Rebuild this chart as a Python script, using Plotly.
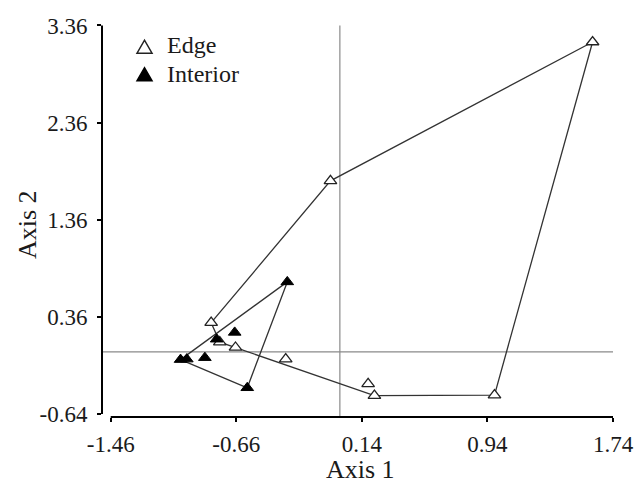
import plotly.graph_objects as go

# Data
edge_x = [1.61, -0.06, -0.82, -0.765, -0.665, -0.345, 0.18, 0.22, 0.985]
edge_y = [3.19, 1.76, 0.30, 0.10, 0.045, -0.075, -0.33, -0.45, -0.445]
interior_x = [-0.335, -0.59, -0.67, -0.785, -1.015, -0.975, -0.86]
interior_y = [0.72, -0.37, 0.20, 0.13, -0.08, -0.075, -0.06]
x_ticks = [-1.46, -0.66, 0.14, 0.94, 1.74]
y_ticks = [-0.64, 0.36, 1.36, 2.36, 3.36]
legend_labels = ["Edge", "Interior"]


def convex_hull(xs, ys):
    pts = sorted(set(zip(xs, ys)))
    def cross(o, a, b):
        return (a[0]-o[0])*(b[1]-o[1]) - (a[1]-o[1])*(b[0]-o[0])
    lower, upper = [], []
    for p in pts:
        while len(lower) >= 2 and cross(lower[-2], lower[-1], p) <= 0:
            lower.pop()
        lower.append(p)
    for p in reversed(pts):
        while len(upper) >= 2 and cross(upper[-2], upper[-1], p) <= 0:
            upper.pop()
        upper.append(p)
    hull = lower[:-1] + upper[:-1]
    hull.append(hull[0])
    return [p[0] for p in hull], [p[1] for p in hull]


FONT = "Liberation Serif"
TXT = "#1a1a1a"
fig = go.Figure()

for xs, ys in [(edge_x, edge_y), (interior_x, interior_y)]:
    hx, hy = convex_hull(xs, ys)
    fig.add_trace(go.Scatter(x=hx, y=hy, mode="lines",
                             line=dict(color="#333333", width=1.3),
                             showlegend=False, hoverinfo="skip"))

fig.add_trace(go.Scatter(x=edge_x, y=edge_y, mode="markers", name=legend_labels[0],
                         showlegend=False,
                         marker=dict(symbol="triangle-up", size=11, color="white",
                                     line=dict(color="#222222", width=1.3))))
fig.add_trace(go.Scatter(x=interior_x, y=interior_y, mode="markers", name=legend_labels[1],
                         showlegend=False,
                         marker=dict(symbol="triangle-up", size=11, color="black",
                                     line=dict(color="black", width=1))))

# Reference lines at zero
fig.add_shape(type="line", xref="x", yref="y", x0=0, x1=0, y0=-0.671, y1=3.36,
              line=dict(color="#8a8a8a", width=1.2), layer="below")
fig.add_shape(type="line", xref="paper", yref="y", x0=0, x1=1, y0=0, y1=0,
              line=dict(color="#8a8a8a", width=1.2), layer="below")
# Detached axis lines
fig.add_shape(type="line", xref="paper", yref="y", x0=0, x1=0, y0=-0.64, y1=3.36,
              line=dict(color="black", width=2))
fig.add_shape(type="line", xref="x", yref="paper", x0=-1.46, x1=1.74, y0=0, y1=0,
              line=dict(color="black", width=2))

# Legend (symbols as pixel-sized shapes, labels as text)
tri = "M-7.5,-6.5 L7.5,-6.5 L0,6.5 Z"
leg_rows = [(0.9446, 0.9485, "white", "#222222"), (0.8745, 0.876, "black", "black")]
for label, (sy, ty, fill, edge) in zip(legend_labels, leg_rows):
    fig.add_shape(type="path", xref="paper", yref="paper", xsizemode="pixel",
                  ysizemode="pixel", xanchor=0.0832, yanchor=sy, path=tri,
                  fillcolor=fill, line=dict(color=edge, width=1.5))
    fig.add_annotation(text=label, xref="paper", yref="paper", x=0.1233, y=ty,
                       xanchor="left", yanchor="middle", showarrow=False,
                       font=dict(family=FONT, size=24, color=TXT))

fig.add_annotation(text="Axis 1", xref="paper", yref="paper", x=0.506, y=-0.133,
                   xanchor="center", yanchor="middle", showarrow=False,
                   font=dict(family=FONT, size=26, color=TXT))
fig.add_annotation(text="Axis 2", xref="paper", yref="paper", x=-0.147, y=0.492,
                   xanchor="center", yanchor="middle", showarrow=False, textangle=-90,
                   font=dict(family=FONT, size=26, color=TXT))

fig.update_layout(
    width=644, height=486,
    margin=dict(l=94, r=39, t=17, b=77, autoexpand=False),
    paper_bgcolor="white", plot_bgcolor="white",
    font=dict(family=FONT, size=23, color=TXT),
    showlegend=False,
    xaxis=dict(range=[-1.5154, 1.74], tickvals=x_ticks,
               ticktext=[f"{v:.2f}" for v in x_ticks],
               showgrid=False, zeroline=False, showline=False,
               ticks="outside", ticklen=4, tickwidth=2, tickcolor="black",
               ticklabelstandoff=2, automargin=False),
    yaxis=dict(range=[-0.671, 3.365], tickvals=y_ticks,
               ticktext=[f"{v:.2f}" for v in y_ticks],
               showgrid=False, zeroline=False, showline=False,
               ticks="outside", ticklen=4, tickwidth=2, tickcolor="black",
               ticklabelstandoff=5, automargin=False),
)

fig.write_html("out.html")
